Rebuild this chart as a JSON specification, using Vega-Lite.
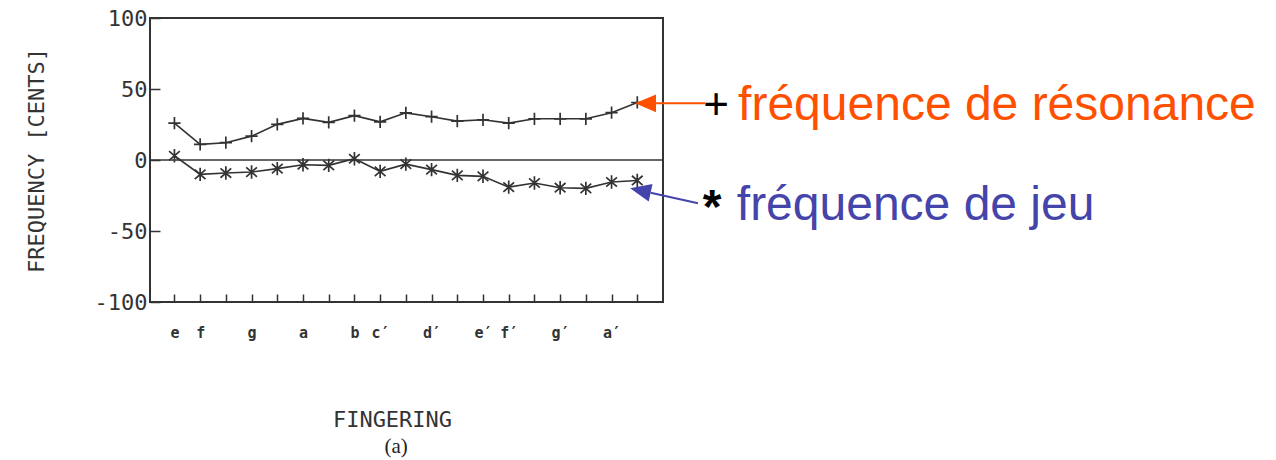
{
  "$schema": "https://vega.github.io/schema/vega-lite/v6.json",
  "width": 513,
  "height": 284,
  "autosize": {"type": "none"},
  "padding": {"left": 150, "top": 18, "right": 613, "bottom": 158},
  "background": "white",
  "config": {"view": {"stroke": "#333", "strokeWidth": 2}, "font": "DejaVu Sans Mono"},
  "data": {
    "values": [
      {"i": 1, "series": "résonance", "cents": 26.0},
      {"i": 2, "series": "résonance", "cents": 11.0},
      {"i": 3, "series": "résonance", "cents": 12.2},
      {"i": 4, "series": "résonance", "cents": 16.8},
      {"i": 5, "series": "résonance", "cents": 25.1},
      {"i": 6, "series": "résonance", "cents": 29.3},
      {"i": 7, "series": "résonance", "cents": 26.5},
      {"i": 8, "series": "résonance", "cents": 31.2},
      {"i": 9, "series": "résonance", "cents": 26.9},
      {"i": 10, "series": "résonance", "cents": 33.2},
      {"i": 11, "series": "résonance", "cents": 30.5},
      {"i": 12, "series": "résonance", "cents": 27.4},
      {"i": 13, "series": "résonance", "cents": 28.3},
      {"i": 14, "series": "résonance", "cents": 26.0},
      {"i": 15, "series": "résonance", "cents": 29.0},
      {"i": 16, "series": "résonance", "cents": 29.0},
      {"i": 17, "series": "résonance", "cents": 29.0},
      {"i": 18, "series": "résonance", "cents": 33.3},
      {"i": 19, "series": "résonance", "cents": 40.5},
      {"i": 1, "series": "jeu", "cents": 3.0},
      {"i": 2, "series": "jeu", "cents": -10.1},
      {"i": 3, "series": "jeu", "cents": -9.2},
      {"i": 4, "series": "jeu", "cents": -8.5},
      {"i": 5, "series": "jeu", "cents": -6.1},
      {"i": 6, "series": "jeu", "cents": -3.3},
      {"i": 7, "series": "jeu", "cents": -3.8},
      {"i": 8, "series": "jeu", "cents": 0.9},
      {"i": 9, "series": "jeu", "cents": -8.0},
      {"i": 10, "series": "jeu", "cents": -2.9},
      {"i": 11, "series": "jeu", "cents": -6.8},
      {"i": 12, "series": "jeu", "cents": -10.8},
      {"i": 13, "series": "jeu", "cents": -11.5},
      {"i": 14, "series": "jeu", "cents": -19.1},
      {"i": 15, "series": "jeu", "cents": -16.2},
      {"i": 16, "series": "jeu", "cents": -19.5},
      {"i": 17, "series": "jeu", "cents": -20.0},
      {"i": 18, "series": "jeu", "cents": -15.5},
      {"i": 19, "series": "jeu", "cents": -14.4}
    ]
  },
  "layer": [
    {
      "data": {"values": [{}]},
      "mark": {"type": "rule", "color": "#333", "strokeWidth": 1.6},
      "encoding": {"y": {"datum": 0, "type": "quantitative"}}
    },
    {
      "mark": {"type": "line", "color": "#333", "strokeWidth": 1.6},
      "encoding": {
        "x": {
          "field": "i",
          "type": "quantitative",
          "scale": {"domain": [0.05, 20], "nice": false, "zero": false},
          "axis": {
            "values": [1, 2, 3, 4, 5, 6, 7, 8, 9, 10, 11, 12, 13, 14, 15, 16, 17, 18, 19],
            "tickCount": 40,
            "labelExpr": "split('e,f,,g,,a,,b,c′,,d′,,e′,f′,,g′,,a′,', ',')[datum.value - 1]",
            "grid": false,
            "domain": false,
            "tickSize": -8,
            "tickColor": "#333",
            "tickWidth": 1.5,
            "labelPadding": 43,
            "labelBaseline": "alphabetic",
            "labelFont": "DejaVu Sans Mono",
            "labelFontSize": 15,
            "labelFontWeight": "bold",
            "labelColor": "#333",
            "labelAngle": 0,
            "labelOverlap": false,
            "labelFlush": false,
            "title": "FINGERING",
            "titleFont": "DejaVu Sans Mono",
            "titleFontSize": 22,
            "titleFontWeight": "normal",
            "titleColor": "#333",
            "titleX": 242,
            "titleY": 117,
            "titleBaseline": "middle",
            "titleAlign": "center"
          }
        },
        "y": {
          "field": "cents",
          "type": "quantitative",
          "scale": {"domain": [-100, 100], "nice": false},
          "axis": {
            "values": [-100, -50, 0, 50, 100],
            "tickCount": 10,
            "labelExpr": "'' + datum.value",
            "grid": false,
            "domain": false,
            "tickSize": -10,
            "tickColor": "#333",
            "tickWidth": 1.5,
            "labelPadding": 13,
            "labelFont": "DejaVu Sans Mono",
            "labelFontSize": 22,
            "labelColor": "#333",
            "title": "FREQUENCY [CENTS]",
            "titleFont": "DejaVu Sans Mono",
            "titleFontSize": 22,
            "titleFontWeight": "normal",
            "titleColor": "#333",
            "titleX": -114,
            "titleY": 142,
            "titleAngle": -90,
            "titleBaseline": "middle",
            "titleAlign": "center"
          }
        },
        "detail": {"field": "series"}
      }
    },
    {
      "mark": {"type": "point", "filled": false, "color": "#333", "strokeWidth": 1.7, "opacity": 1},
      "encoding": {
        "x": {"field": "i", "type": "quantitative"},
        "y": {"field": "cents", "type": "quantitative"},
        "shape": {
          "field": "series",
          "scale": {
            "domain": ["résonance", "jeu"],
            "range": ["M-1,0L1,0M0,-1L0,1", "M-0.8,-0.7L0.8,0.7M-0.8,0.7L0.8,-0.7M0,-1L0,1"]
          },
          "legend": null
        },
        "size": {
          "field": "series",
          "scale": {"domain": ["résonance", "jeu"], "range": [150, 180]},
          "legend": null
        }
      }
    },
    {
      "data": {"values": [{}]},
      "mark": {"type": "rule", "color": "#FF5000", "strokeWidth": 2},
      "encoding": {
        "x": {"datum": 19.73, "type": "quantitative"},
        "x2": {"datum": 21.64},
        "y": {"datum": 39.9, "type": "quantitative"},
        "y2": {"datum": 39.9}
      }
    },
    {
      "data": {"values": [{}]},
      "mark": {"type": "point", "shape": "M-1,0L1,-0.85L1,0.85Z", "filled": true, "color": "#FF5000", "size": 441, "opacity": 1},
      "encoding": {
        "x": {"datum": 19.32, "type": "quantitative"},
        "y": {"datum": 39.9, "type": "quantitative"}
      }
    },
    {
      "data": {"values": [{}]},
      "mark": {"type": "rule", "color": "#4444AA", "strokeWidth": 2},
      "encoding": {
        "x": {"datum": 19.52, "type": "quantitative"},
        "x2": {"datum": 21.36},
        "y": {"datum": -23.1, "type": "quantitative"},
        "y2": {"datum": -30.5}
      }
    },
    {
      "data": {"values": [{}]},
      "mark": {"type": "point", "shape": "M-1,0L1,-0.85L1,0.85Z", "filled": true, "color": "#4444AA", "size": 441, "opacity": 1, "angle": 12.4},
      "encoding": {
        "x": {"datum": 19.12, "type": "quantitative"},
        "y": {"datum": -21.5, "type": "quantitative"}
      }
    },
    {
      "data": {"values": [{"label": "+"}]},
      "mark": {"type": "text", "font": "Liberation Sans", "fontSize": 44, "color": "#000", "align": "center", "baseline": "alphabetic"},
      "encoding": {
        "x": {"datum": 22.06, "type": "quantitative"},
        "y": {"datum": 28.6, "type": "quantitative"},
        "text": {"field": "label"}
      }
    },
    {
      "data": {"values": [{"label": "fréquence de résonance"}]},
      "mark": {"type": "text", "font": "Liberation Sans", "fontSize": 48, "color": "#FF5000", "align": "left", "baseline": "alphabetic"},
      "encoding": {
        "x": {"datum": 22.92, "type": "quantitative"},
        "y": {"datum": 28.2, "type": "quantitative"},
        "text": {"field": "label"}
      }
    },
    {
      "data": {"values": [{"label": "*"}]},
      "mark": {"type": "text", "font": "Liberation Sans", "fontSize": 48, "fontWeight": "bold", "color": "#000", "align": "center", "baseline": "alphabetic"},
      "encoding": {
        "x": {"datum": 21.91, "type": "quantitative"},
        "y": {"datum": -44.5, "type": "quantitative"},
        "text": {"field": "label"}
      }
    },
    {
      "data": {"values": [{"label": "fréquence de jeu"}]},
      "mark": {"type": "text", "font": "Liberation Sans", "fontSize": 48, "color": "#4444AA", "align": "left", "baseline": "alphabetic"},
      "encoding": {
        "x": {"datum": 22.87, "type": "quantitative"},
        "y": {"datum": -42.25, "type": "quantitative"},
        "text": {"field": "label"}
      }
    },
    {
      "data": {"values": [{"label": "(a)"}]},
      "mark": {"type": "text", "font": "Liberation Serif", "fontSize": 21, "color": "#222", "align": "center", "baseline": "alphabetic"},
      "encoding": {
        "x": {"datum": 9.62, "type": "quantitative"},
        "y": {"datum": -206.3, "type": "quantitative"},
        "text": {"field": "label"}
      }
    }
  ]
}
